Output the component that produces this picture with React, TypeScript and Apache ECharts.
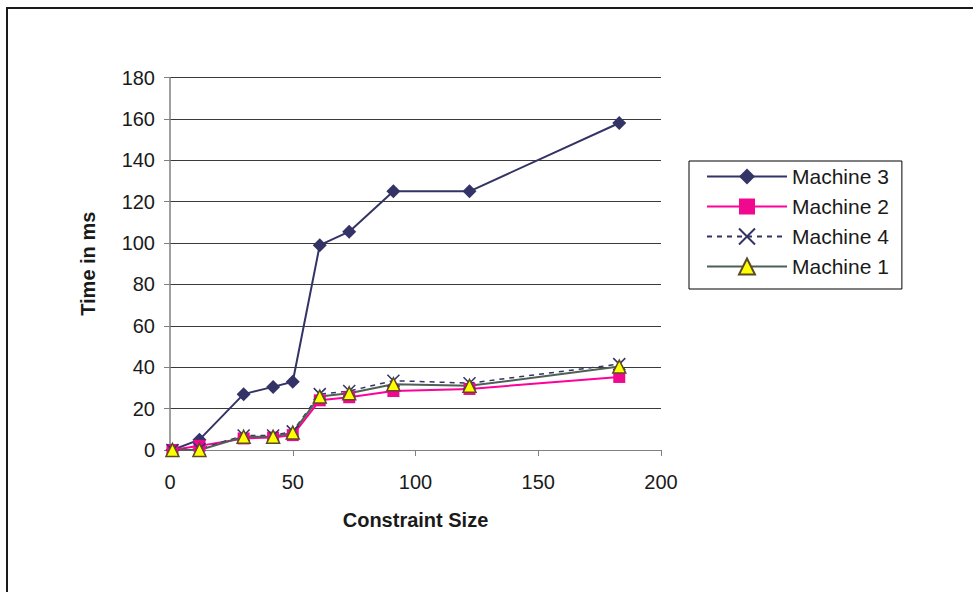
import React, { useEffect, useRef } from "react";
import * as echarts from "echarts";

const constraintSize = [1, 12, 30, 42, 50, 61, 73, 91, 122, 183];
const machine3 = [0, 5, 27, 30.5, 33, 99, 105.5, 125, 125, 158];
const machine2 = [0, 2, 5.6, 6, 7.2, 24, 25.5, 28.5, 29.5, 35.3];
const machine4 = [0, 0.5, 7, 7, 9, 27, 28.5, 33.5, 32.3, 41.5];
const machine1 = [0, 0, 6.4, 6.4, 8.4, 25.8, 27.4, 31.8, 31, 40.3];
const seriesNames = ["Machine 3", "Machine 2", "Machine 4", "Machine 1"];
const xTicks = { min: 0, max: 200, interval: 50 };
const yTicks = { min: 0, max: 180, interval: 20 };

const pairs = (ys: number[]) => constraintSize.map((x, i) => [x, ys[i]]);

export default function App() {
  const ref = useRef<HTMLDivElement>(null);
  useEffect(() => {
    document.body.style.margin = "0";
    const chart = echarts.init(ref.current!, null, { renderer: "svg" });
    const font = "'Liberation Sans', Arial, sans-serif";
    chart.setOption({
      animation: false,
      backgroundColor: "#ffffff",
      textStyle: { fontFamily: font },
      graphic: [
        {
          type: "rect",
          shape: { x: 7, y: 8, width: 1200, height: 1000 },
          style: { fill: "none", stroke: "#1a1a1a", lineWidth: 2 },
          silent: true,
        },
      ],
      grid: { left: 170, top: 77.5, right: 312, bottom: 142 },
      legend: {
        orient: "vertical",
        left: 689,
        top: 161,
        data: seriesNames,
        itemWidth: 80,
        itemHeight: 20,
        itemGap: 9,
        padding: [5, 13, 12, 17],
        borderColor: "#000",
        borderWidth: 1,
        textStyle: { fontSize: 21, lineHeight: 20, color: "#1a1a1a", fontFamily: font },
      },
      xAxis: {
        type: "value",
        min: xTicks.min,
        max: xTicks.max,
        interval: xTicks.interval,
        name: "Constraint Size",
        nameLocation: "middle",
        nameGap: 60,
        nameTextStyle: { fontSize: 20, fontWeight: "bold", color: "#1a1a1a" },
        axisLine: { lineStyle: { color: "#808080", width: 1 } },
        axisTick: { show: true, length: 6, lineStyle: { color: "#808080" } },
        axisLabel: { fontSize: 20, color: "#1a1a1a", margin: 22 },
        splitLine: { show: false },
      },
      yAxis: {
        type: "value",
        min: yTicks.min,
        max: yTicks.max,
        interval: yTicks.interval,
        name: "Time in ms",
        nameLocation: "middle",
        nameGap: 72,
        nameRotate: 90,
        nameTextStyle: { fontSize: 20, fontWeight: "bold", color: "#1a1a1a" },
        axisLine: { show: true, lineStyle: { color: "#808080", width: 1.5 } },
        axisTick: { show: true, length: 6, lineStyle: { color: "#808080" } },
        axisLabel: { fontSize: 20, color: "#1a1a1a", margin: 15 },
        splitLine: { show: true, lineStyle: { color: "#3a3a3a", width: 1 } },
      },
      series: [
        {
          name: "Machine 3",
          type: "line",
          data: pairs(machine3),
          symbol: "diamond",
          symbolSize: 14,
          lineStyle: { color: "#333366", width: 2 },
          itemStyle: { color: "#333366" },
        },
        {
          name: "Machine 2",
          type: "line",
          data: pairs(machine2),
          symbol: "rect",
          symbolSize: 12,
          lineStyle: { color: "#ff0099", width: 2 },
          itemStyle: { color: "#f0088f" },
        },
        {
          name: "Machine 4",
          type: "line",
          data: pairs(machine4),
          symbol: "path://M0,0L10,10M10,0L0,10",
          symbolSize: 12,
          lineStyle: { color: "#333366", width: 1.5, type: [5, 5] },
          itemStyle: { color: "none", borderColor: "#333366", borderWidth: 1.5 },
        },
        {
          name: "Machine 1",
          type: "line",
          data: pairs(machine1),
          symbol: "triangle",
          symbolSize: 13,
          lineStyle: { color: "#4f5f55", width: 2 },
          itemStyle: { color: "#ffff00", borderColor: "#5a4a2a", borderWidth: 1.5 },
        },
      ],
    });
    return () => chart.dispose();
  }, []);
  return (
    <div
      ref={ref}
      style={{ position: "absolute", left: 0, top: 0, width: 973, height: 592 }}
    />
  );
}
